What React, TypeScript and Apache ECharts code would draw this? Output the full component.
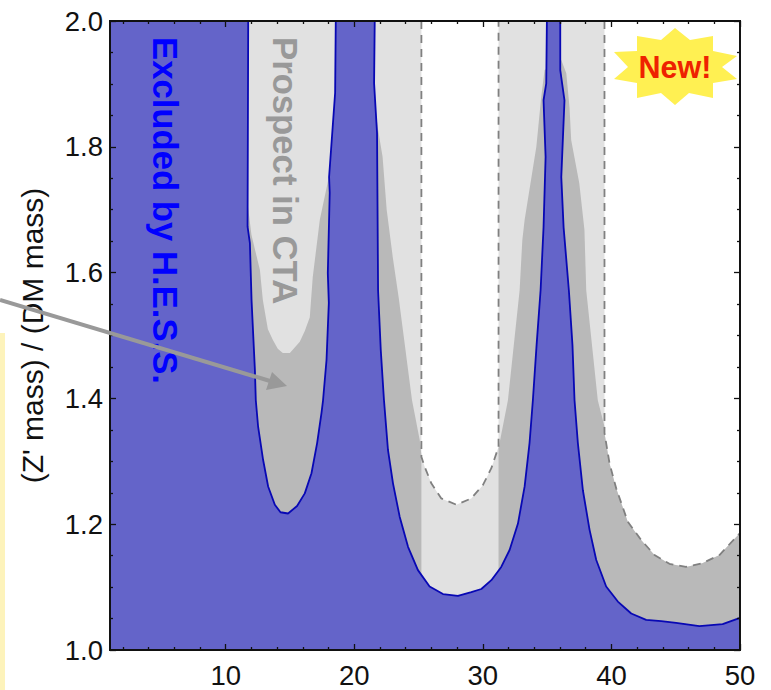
import React, { useEffect, useRef } from "react";
import * as echarts from "echarts";

type P = [number, number];

const xMajor = [10, 20, 30, 40, 50];
const xMinor = [2, 4, 6, 8, 12, 14, 16, 18, 22, 24, 26, 28, 32, 34, 36, 38, 42, 44, 46, 48];
const yMajor = [1.0, 1.2, 1.4, 1.6, 1.8, 2.0];
const yMinor = [1.05, 1.1, 1.15, 1.25, 1.3, 1.35, 1.45, 1.5, 1.55, 1.65, 1.7, 1.75, 1.85, 1.9, 1.95];

// H.E.S.S. exclusion boundaries
const hessWell1: P[] = [
  [11.75, 2], [11.7, 1.673], [11.88, 1.647], [12.01, 1.556], [12.27, 1.445], [12.34, 1.397], [12.52, 1.355],
  [12.91, 1.302], [13.3, 1.26], [13.82, 1.231], [14.26, 1.219], [14.85, 1.217], [15.55, 1.229], [16.15, 1.249],
  [16.67, 1.281], [17.11, 1.329], [17.45, 1.377], [17.57, 1.397], [17.84, 1.461], [18.02, 1.552], [17.94, 1.599],
  [18.09, 1.727], [18.04, 1.752], [18.51, 1.886], [18.56, 2],
];
const hessWell2: P[] = [
  [21.59, 2], [21.54, 1.901], [21.77, 1.822], [21.85, 1.572], [22.06, 1.477], [22.31, 1.397], [22.62, 1.318],
  [23.01, 1.265], [23.53, 1.212], [24.18, 1.164], [24.95, 1.127], [25.86, 1.101], [26.9, 1.089], [28.06, 1.086],
  [29.1, 1.092], [29.88, 1.097], [30.66, 1.111], [31.43, 1.132], [32.08, 1.159], [32.73, 1.201], [33.25, 1.26],
  [33.63, 1.329], [33.89, 1.397], [34.18, 1.485], [34.49, 1.572], [34.72, 1.672], [34.88, 1.784], [34.72, 1.874],
  [34.93, 1.901], [34.98, 2],
];
const hessWell3: P[] = [
  [36.02, 2], [36.02, 1.922], [36.35, 1.874], [36.1, 1.752], [36.28, 1.672], [36.69, 1.572], [36.97, 1.485],
  [37.13, 1.397], [37.39, 1.329], [37.78, 1.254], [38.3, 1.191], [38.82, 1.143], [39.59, 1.101], [40.5, 1.077],
  [41.54, 1.058], [42.7, 1.048], [43.87, 1.046], [45.03, 1.043], [46.84, 1.038], [48.65, 1.041], [50, 1.051],
];

// CTA prospect envelope, dashed in the reference
const ctaDashA: P[] = [
  [25.22, 2], [25.22, 1.307], [25.48, 1.291], [25.99, 1.265], [26.77, 1.241], [27.94, 1.231], [29.1, 1.241],
  [30.0, 1.262], [30.66, 1.289], [31.22, 1.323], [31.22, 2],
];
const ctaDashB: P[] = [
  [39.46, 2], [39.46, 1.345], [39.85, 1.297], [40.37, 1.257], [41.27, 1.204], [42.31, 1.175], [43.35, 1.151],
  [44.51, 1.137], [45.8, 1.132], [47.07, 1.138], [48.4, 1.151], [50, 1.186],
];

// Boundaries of the darker grey regions
const darkWell1: P[] = [
  [11.6, 1.727], [12.0, 1.66], [12.66, 1.604], [12.89, 1.556], [13.28, 1.51], [13.67, 1.493], [14.05, 1.479],
  [14.44, 1.472], [14.99, 1.472], [15.76, 1.49], [16.15, 1.507], [16.54, 1.529], [16.77, 1.593], [17.32, 1.684],
  [18.3, 1.779], [18.5, 1.2], [11.5, 1.2],
];
const darkWell2: P[] = [
  [21.44, 1.901], [21.82, 1.831], [22.2, 1.784], [22.52, 1.7], [22.99, 1.625], [23.45, 1.561], [24.49, 1.397],
  [25.09, 1.334], [25.22, 1.31], [25.22, 1.05], [21, 1.05],
];
const darkWell3: P[] = [
  [31.22, 1.05], [31.22, 1.32], [31.3, 1.329], [31.95, 1.397], [32.86, 1.572], [33.07, 1.652], [33.25, 1.684],
  [34.16, 1.8], [34.54, 1.879], [34.8, 1.922], [36.1, 1.938], [36.49, 1.917], [36.74, 1.863], [36.87, 1.811],
  [37.5, 1.742], [37.9, 1.668], [38.04, 1.572], [38.94, 1.397], [39.46, 1.355], [39.46, 1.345], [39.85, 1.297],
  [40.37, 1.257], [41.27, 1.204], [42.31, 1.175], [43.35, 1.151], [44.51, 1.137], [45.8, 1.132], [47.07, 1.138],
  [48.4, 1.151], [50, 1.186], [50, 1], [31.22, 1],
];

const lightRegion: P[] = [[1, 1], [1, 2], ...ctaDashA, ...ctaDashB, [50, 1]];
const blueRegion: P[] = [[1, 1], [1, 2], ...hessWell1, ...hessWell2, ...hessWell3, [50, 1]];

const FONT = '"Liberation Sans", Arial, sans-serif';
const BLUE_FILL = "#6464c9";
const BLUE_LINE = "#0808b4";
const LIGHT = "#e1e1e1";
const DARK = "#b9b9b9";
const DASH = "#808080";
const AXIS = "#111111";

const burst: number[][] = [
  [675, 28], [690, 40], [713, 36], [713, 51], [737, 56], [722, 67], [737, 79], [713, 83], [713, 98], [689, 93],
  [675, 105], [661, 93], [637, 98], [637, 83], [614, 79], [628, 67], [614, 52], [637, 51], [637, 36], [661, 40],
];

function polygonSeries(points: P[], color: string, z: number) {
  return {
    type: "custom",
    coordinateSystem: "cartesian2d",
    silent: true,
    z,
    data: [points[0]],
    renderItem: (_p: any, api: any) => ({
      type: "polygon",
      shape: { points: points.map((pt) => api.coord(pt)) },
      style: { fill: color, stroke: "none" },
    }),
  };
}

function lineSeries(points: P[], color: string, width: number, z: number, dashed?: number[]) {
  return {
    type: "line",
    data: points,
    showSymbol: false,
    symbol: "none",
    silent: true,
    clip: true,
    z,
    lineStyle: { color, width, type: dashed || "solid" },
  };
}

function xAxis(position: string, values: number[], len: number, labels: boolean) {
  return {
    type: "value",
    position,
    min: 1,
    max: 50,
    z: 20,
    axisLine: { show: true, onZero: false, lineStyle: { color: AXIS, width: 1.8 } },
    axisTick: { show: true, inside: true, length: len, customValues: values, lineStyle: { color: AXIS, width: 1.3 } },
    minorTick: { show: false },
    splitLine: { show: false },
    axisLabel: labels
      ? { show: true, customValues: values, margin: 11, fontSize: 27.5, color: "#111", fontFamily: FONT, formatter: (v: number) => String(v) }
      : { show: false },
  };
}

function yAxis(position: string, values: number[], len: number, labels: boolean) {
  return {
    type: "value",
    position,
    min: 1,
    max: 2,
    z: 20,
    name: labels ? "(Z' mass) / (DM mass)" : "",
    nameLocation: "middle",
    nameGap: 63,
    nameTextStyle: { fontSize: 30, color: "#111", fontFamily: FONT },
    axisLine: { show: true, onZero: false, lineStyle: { color: AXIS, width: 1.8 } },
    axisTick: { show: true, inside: true, length: len, customValues: values, lineStyle: { color: AXIS, width: 1.3 } },
    minorTick: { show: false },
    splitLine: { show: false },
    axisLabel: labels
      ? { show: true, customValues: values, margin: 7, fontSize: 27.5, color: "#111", fontFamily: FONT, formatter: (v: number) => v.toFixed(1) }
      : { show: false },
  };
}

export default function App() {
  const ref = useRef<HTMLDivElement>(null);
  useEffect(() => {
    const chart = echarts.init(ref.current!, undefined, { renderer: "svg" });
    chart.setOption({
      animation: false,
      backgroundColor: "#ffffff",
      grid: { left: 110, top: 21, width: 630, height: 629, containLabel: false },
      xAxis: [
        xAxis("bottom", xMajor, 6, true),
        xAxis("bottom", xMinor, 3, false),
        xAxis("top", xMajor, 6, false),
        xAxis("top", xMinor, 3, false),
      ],
      yAxis: [
        yAxis("left", yMajor, 6, true),
        yAxis("left", yMinor, 3, false),
        yAxis("right", yMajor, 6, false),
        yAxis("right", yMinor, 3, false),
      ],
      series: [
        polygonSeries(lightRegion, LIGHT, 1),
        polygonSeries(darkWell1, DARK, 2),
        polygonSeries(darkWell2, DARK, 2),
        polygonSeries(darkWell3, DARK, 2),
        lineSeries(ctaDashA, DASH, 1.8, 3, [8, 6]),
        lineSeries(ctaDashB, DASH, 1.8, 3, [8, 6]),
        polygonSeries(blueRegion, BLUE_FILL, 4),
        lineSeries(hessWell1, BLUE_LINE, 1.8, 5),
        lineSeries(hessWell2, BLUE_LINE, 1.8, 5),
        lineSeries(hessWell3, BLUE_LINE, 1.8, 5),
      ],
      graphic: [
        { type: "rect", z: 30, shape: { x: 0, y: 333, width: 5, height: 357 }, style: { fill: "#fdf3bb" } },
        { type: "polygon", z: 30, shape: { points: burst }, style: { fill: "#fff052" } },
        {
          type: "text", z: 31, x: 675, y: 67,
          style: { text: "New!", fill: "#ee2200", font: `bold 30.5px ${FONT}`, textAlign: "center", textVerticalAlign: "middle" },
        },
        {
          type: "text", z: 31, x: 165, y: 37, rotation: -Math.PI / 2,
          style: { text: "Excluded by H.E.S.S.", fill: "#0000ff", font: `bold 34.7px ${FONT}`, textAlign: "left", textVerticalAlign: "middle" },
        },
        {
          type: "text", z: 31, x: 285, y: 37, rotation: -Math.PI / 2,
          style: { text: "Prospect in CTA", fill: "#999999", font: `bold 34.7px ${FONT}`, textAlign: "left", textVerticalAlign: "middle" },
        },
        { type: "line", z: 32, shape: { x1: 0, y1: 300, x2: 270, y2: 381 }, style: { stroke: "#999999", lineWidth: 4 } },
        { type: "polygon", z: 32, shape: { points: [[287, 386], [272, 372], [266, 390]] }, style: { fill: "#999999" } },
      ],
    });
    return () => chart.dispose();
  }, []);
  return <div ref={ref} style={{ position: "fixed", left: 0, top: 0, width: 771, height: 690 }} />;
}
